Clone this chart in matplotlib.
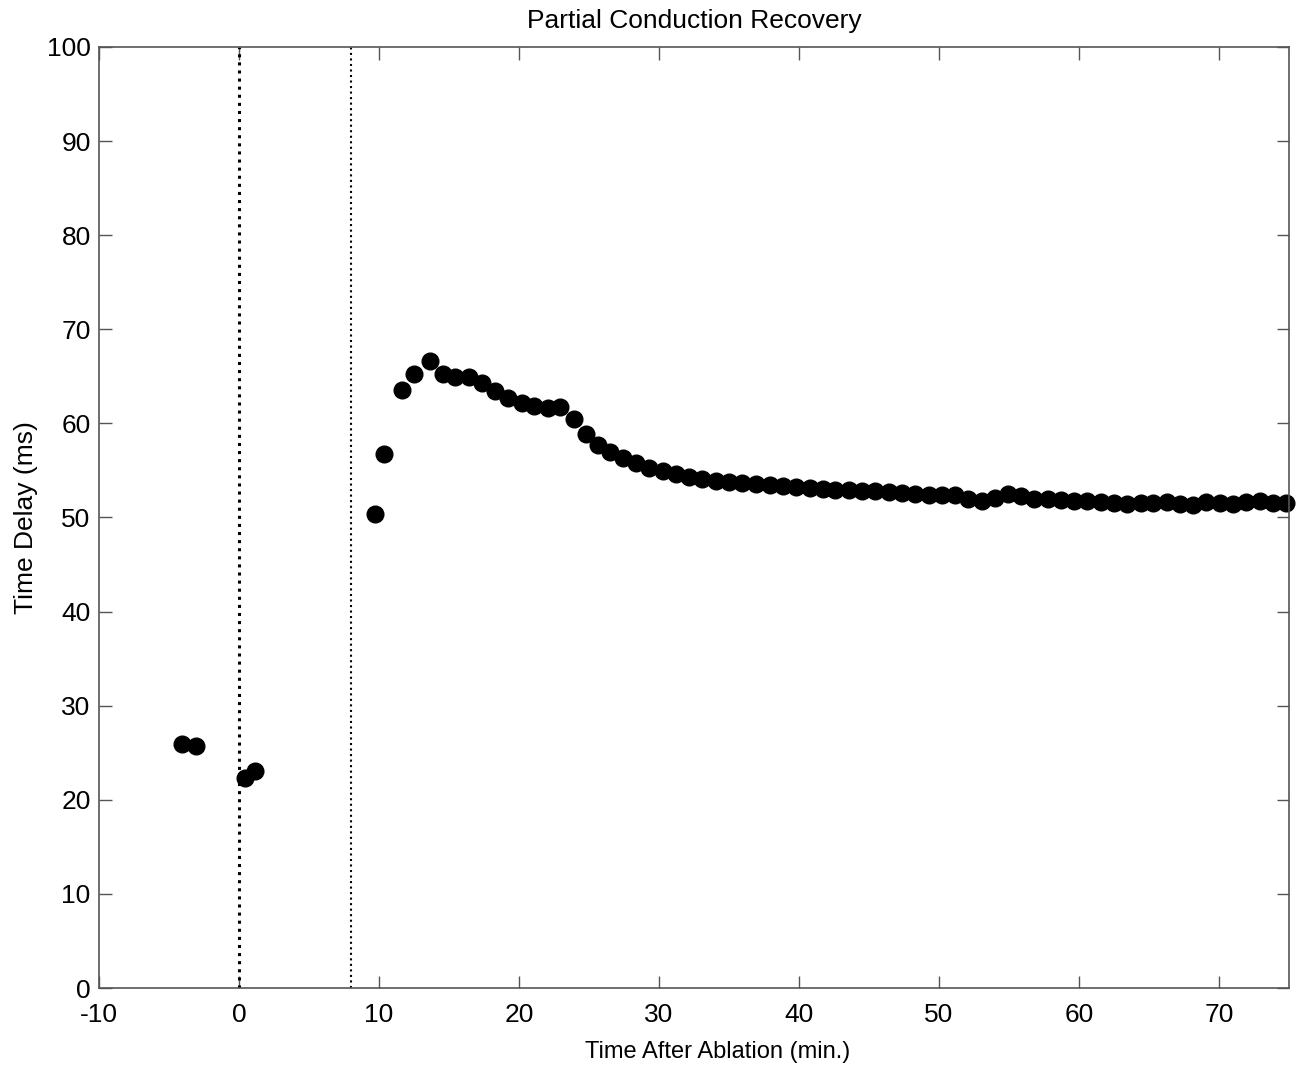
import numpy as np
import matplotlib
matplotlib.use('Agg')
from matplotlib import pyplot as plt

plt.rcParams['font.family'] = ['Liberation Sans', 'DejaVu Sans']
plt.rcParams['axes.unicode_minus'] = False

# baseline recordings before ablation and just after it
pre_t   = [-4.08, -3.06, 0.43, 1.14]
pre_d   = [25.9, 25.7, 22.3, 23.1]

# recovery phase recordings
post_t  = [9.69, 10.35, 11.65, 12.53, 13.63, 14.58, 15.44, 16.43, 17.35, 18.30,
           19.18, 20.18, 21.08, 22.08, 22.93, 23.93, 24.80, 25.63, 26.50, 27.40,
           28.35, 29.30, 30.25, 31.20, 32.15, 33.10, 34.05, 35.00, 35.95, 36.95,
           37.90, 38.85, 39.80, 40.75, 41.70, 42.60, 43.55, 44.50, 45.45, 46.40,
           47.35, 48.30, 49.25, 50.20, 51.15, 52.10, 53.05, 54.00, 54.90, 55.85,
           56.80, 57.75, 58.70, 59.65, 60.60, 61.55, 62.50, 63.45, 64.40, 65.30,
           66.25, 67.20, 68.15, 69.10, 70.05, 71.00, 71.95, 72.90, 73.85, 74.75]
post_d  = [50.4, 56.7, 63.6, 65.2, 66.6, 65.3, 64.9, 64.9, 64.3, 63.4,
           62.7, 62.2, 61.9, 61.6, 61.7, 60.5, 58.9, 57.7, 57.0, 56.3,
           55.8, 55.3, 54.9, 54.6, 54.3, 54.1, 53.9, 53.8, 53.7, 53.6,
           53.5, 53.3, 53.2, 53.1, 53.0, 52.9, 52.9, 52.8, 52.8, 52.7,
           52.6, 52.5, 52.4, 52.4, 52.4, 52.0, 51.8, 52.1, 52.5, 52.3,
           52.0, 52.0, 51.9, 51.8, 51.7, 51.6, 51.5, 51.4, 51.5, 51.5,
           51.6, 51.4, 51.3, 51.6, 51.5, 51.4, 51.6, 51.7, 51.5, 51.5]

ablation_marks = [0, 8]
xticks = list(range(-10, 71, 10))
yticks = list(range(0, 101, 10))

fig = plt.figure(figsize=(13.01, 10.67), dpi=100)
ax  = fig.add_axes([0.0761, 0.074, 0.9147, 0.882])

ax.plot(ablation_marks[0:1] * 2, [0, 100], ':', color='k', lw=2.2)
ax.plot(ablation_marks[1:2] * 2, [0, 100], ':', color='k', lw=1.5)

ax.plot(pre_t, pre_d, 'o', color='k', ms=12, clip_on=False)
ax.plot(post_t, post_d, 'o', color='k', ms=12, clip_on=False)

ax.set_xlim(-10, 75)
ax.set_ylim(0, 100)
ax.set_xticks(xticks)
ax.set_yticks(yticks)
ax.tick_params(direction='in', length=9, width=1, color='#555555',
               top=True, right=True, labelsize=19)
ax.tick_params(axis='x', pad=11)
ax.tick_params(axis='y', pad=6)
for s in ax.spines.values():
    s.set_color('#555555')
    s.set_linewidth(1.2)

ax.set_title('Partial Conduction Recovery', fontsize=19, pad=14)
ax.set_xlabel('Time After Ablation (min.)', fontsize=17, labelpad=10)
ax.xaxis.label.set_x(0.52)
ax.set_ylabel('Time Delay (ms)', fontsize=19, labelpad=6)

plt.savefig('out.png', dpi=100)
